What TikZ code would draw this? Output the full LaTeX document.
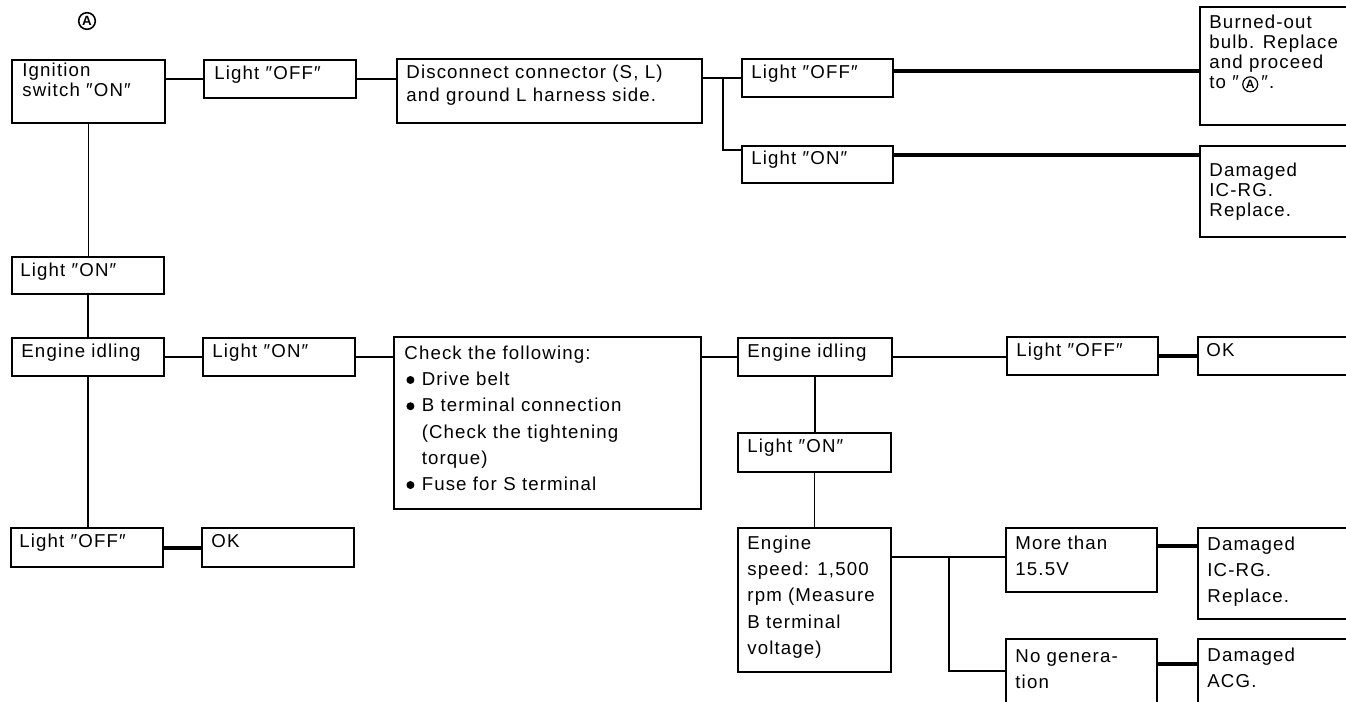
\documentclass[tikz,border=0pt]{standalone}
\usepackage{fontspec}
\setmainfont{Liberation Sans}[LetterSpace=6]
\newfontfamily\markfont{Liberation Sans}
\usetikzlibrary{fit,calc}
% fixed-height strut so every label's top sits a constant distance above its first baseline
\newcommand\lblstrut{\rule{0pt}{10.5pt}}
% circled "A" used as a jump mark inside running text
\newcommand\circA{\tikz[baseline=(ca.base)]\node[circle,draw,line width=0.9pt,inner sep=0.8pt,font=\markfont\bfseries\fontsize{9pt}{9pt}\selectfont](ca){A};}
% solid round bullet for the check list
\newcommand\bul{\hspace{1.5pt}\tikz[baseline=0pt]\fill (3pt,4.3pt) circle[radius=3pt];\hspace{5.5pt}}
\begin{document}
\begin{tikzpicture}[x=0.75pt,y=-0.75pt,
  box/.style={draw,line width=1.25pt,inner sep=0pt},
  lbl/.style={anchor=north west,inner sep=0pt,align=left,font=\fontsize{14pt}{15pt}\selectfont},
  lblmid/.style={lbl,font=\fontsize{14pt}{17.25pt}\selectfont},
  lblwide/.style={lbl,font=\fontsize{14pt}{19.7pt}\selectfont},
  link/.style={line width=1.1pt},
  heavy/.style={line width=3pt}]
\useasboundingbox (0,0) rectangle (1346,702);
\clip (0,0) rectangle (1346,702);

% jump mark
\node[circle,draw,line width=1.2pt,inner sep=0.9pt,font=\markfont\bfseries\fontsize{10pt}{10pt}\selectfont] (markA) at (87,21) {A};

% ---- boxes ----
\node[box,fit={(12,60)(165,123)}] (ign) {};
\node[box,fit={(204,60)(356,98)}] (lo1) {};
\node[box,fit={(397,59)(702,123)}] (disc) {};
\node[box,fit={(742,59)(893,97)}] (lo2) {};
\node[box,fit={(742,146)(893,183)}] (lon2) {};
\node[box,fit={(1200,7)(1370,125)}] (burn) {};
\node[box,fit={(1200,146)(1370,237)}] (dmg1) {};
\node[box,fit={(12,257)(164,294)}] (lon1) {};
\node[box,fit={(12,338)(164,376)}] (idle1) {};
\node[box,fit={(203,338)(355,376)}] (lon3) {};
\node[box,fit={(394,337)(701,509)}] (chk) {};
\node[box,fit={(738,338)(892,376)}] (idle2) {};
\node[box,fit={(1007,337)(1158,375)}] (loff4) {};
\node[box,fit={(1198,337)(1370,375)}] (ok2) {};
\node[box,fit={(738,433)(891,472)}] (lon4) {};
\node[box,fit={(738,528)(891,672)}] (speed) {};
\node[box,fit={(1006,528)(1157,592)}] (more) {};
\node[box,fit={(1198,528)(1370,619)}] (dmg2) {};
\node[box,fit={(1006,639)(1157,720)}] (nogen) {};
\node[box,fit={(1198,639)(1370,720)}] (dmg3) {};
\node[box,fit={(11,528)(163,567)}] (loff3) {};
\node[box,fit={(202,528)(354,567)}] (ok1) {};

% ---- labels ----
\node[lbl] (ign-t) at ($(ign.north west)+(11,3)$) {\lblstrut Ignition\\switch ″ON″};
\node[lbl] (lo1-t) at ($(lo1.north west)+(11,6)$) {\lblstrut Light ″OFF″};
\node[lblmid] (disc-t) at ($(disc.north west)+(10,6)$) {\lblstrut Disconnect connector (S, L)\\and ground L harness side.};
\node[lbl] (lo2-t) at ($(lo2.north west)+(10,6)$) {\lblstrut Light ″OFF″};
\node[lbl] (lon2-t) at ($(lon2.north west)+(10,5)$) {\lblstrut Light ″ON″};
\node[lbl] (burn-t) at ($(burn.north west)+(10,8)$) {\lblstrut Burned-out\\bulb. Replace\\and proceed\\to ″\,\circA\,″.};
\node[lbl] (dmg1-t) at ($(dmg1.north west)+(10,17)$) {\lblstrut Damaged\\IC-RG.\\Replace.};
\node[lbl] (lon1-t) at ($(lon1.north west)+(9,6)$) {\lblstrut Light ″ON″};
\node[lbl] (idle1-t) at ($(idle1.north west)+(10,6)$) {\lblstrut Engine idling};
\node[lbl] (lon3-t) at ($(lon3.north west)+(10,6)$) {\lblstrut Light ″ON″};
\node[lblwide] (chk-t) at ($(chk.north west)+(11,9)$) {\lblstrut Check the following:\\
  \bul Drive belt\\
  \bul B terminal connection\\
  \phantom{\bul}(Check the tightening\\
  \phantom{\bul}torque)\\
  \bul Fuse for S terminal};
\node[lbl] (idle2-t) at ($(idle2.north west)+(10,6)$) {\lblstrut Engine idling};
\node[lbl] (loff4-t) at ($(loff4.north west)+(10,6)$) {\lblstrut Light ″OFF″};
\node[lbl] (ok2-t) at ($(ok2.north west)+(9,6)$) {\lblstrut OK};
\node[lbl] (lon4-t) at ($(lon4.north west)+(10,6)$) {\lblstrut Light ″ON″};
\node[lblwide] (speed-t) at ($(speed.north west)+(10,8)$) {\lblstrut Engine\\speed: 1,500\\rpm (Measure\\B terminal\\voltage)};
\node[lblwide] (more-t) at ($(more.north west)+(10,8)$) {\lblstrut More than\\15.5V};
\node[lblwide] (dmg2-t) at ($(dmg2.north west)+(10,9)$) {\lblstrut Damaged\\IC-RG.\\Replace.};
\node[lblwide] (nogen-t) at ($(nogen.north west)+(10,10)$) {\lblstrut No genera-\\tion};
\node[lblwide] (dmg3-t) at ($(dmg3.north west)+(10,9)$) {\lblstrut Damaged\\ACG.};
\node[lbl] (loff3-t) at ($(loff3.north west)+(9,6)$) {\lblstrut Light ″OFF″};
\node[lbl] (ok1-t) at ($(ok1.north west)+(10,6)$) {\lblstrut OK};

% ---- connectors ----
\draw[link] (lo1.west -| ign.east) -- (lo1.west);
\draw[link] (lo1.east) -- (lo1.east -| disc.west);
\draw[link] (disc.east |- lo2.west) -- (lo2.west);
\coordinate (br1) at ($(disc.east |- lo2.west)+(20,0)$);
\draw[link] (br1) |- ($(lon2.north west)+(0,5)$);
\draw[heavy] ($(lo2.east)+(0,-7)$) -- ($(lo2.east -| burn.west)+(0,-7)$);
\draw[heavy] ($(lon2.east)+(0,-9)$) -- ($(lon2.east -| dmg1.west)+(0,-9)$);

\draw[link] (ign.south) -- (ign.south |- lon1.north);
\draw[link] (lon1.south) -- (lon1.south |- idle1.north);
\draw[link] (idle1.south) -- (idle1.south |- loff3.north);
\draw[link] (idle1.east) -- (idle1.east -| lon3.west);
\draw[link] (lon3.east) -- (lon3.east -| chk.west);
\draw[link] (idle2.west -| chk.east) -- (idle2.west);
\draw[link] (idle2.east) -- (idle2.east -| loff4.west);
\draw[heavy] (loff4.east) -- (loff4.east -| ok2.west);
\draw[heavy] (loff3.east) -- (loff3.east -| ok1.west);

\draw[link] (idle2.south) -- (idle2.south |- lon4.north);
\draw[link] (lon4.south) -- (lon4.south |- speed.north);
\draw[link] ($(more.west -| speed.east)+(0,-3)$) -- ($(more.west)+(0,-3)$);
\coordinate (br2) at ($(more.west -| speed.east)+(57,-3)$);
\draw[link] (br2) |- ($(nogen.north west)+(0,33)$);
\draw[heavy] ($(more.north east)+(0,19)$) -- ($(more.north east -| dmg2.west)+(0,19)$);
\draw[heavy] ($(nogen.north east)+(0,26)$) -- ($(nogen.north east -| dmg3.west)+(0,26)$);
\end{tikzpicture}
\end{document}
